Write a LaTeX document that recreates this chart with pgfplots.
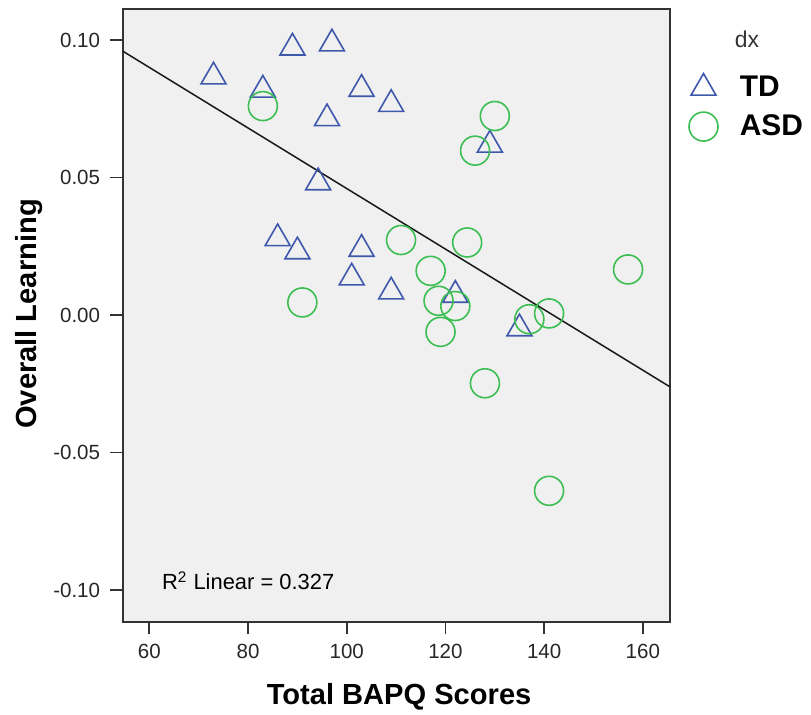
\documentclass[border=0pt]{standalone}
\usepackage{fontspec}
\setmainfont{Liberation Sans}
\usepackage{pgfplots}
\pgfplotsset{compat=1.18}
\definecolor{tdblue}{HTML}{3E58AC}
\definecolor{asdgreen}{HTML}{3DBE52}
\definecolor{panel}{HTML}{F0F0F0}
\definecolor{frame}{HTML}{333333}

\begin{document}
\begin{tikzpicture}
\begin{axis}[
  name=ax,
  scale only axis,
  width=273.65bp,height=306.2bp,
  xmin=54.6,xmax=165.5,ymin=-0.1115,ymax=0.1112,
  xtick={60,80,100,120,140,160},
  ytick={-0.1,-0.05,0,0.05,0.1},
  yticklabels={-0.10,-0.05,0.00,0.05,0.10},
  tick align=outside,
  major tick length=6.3bp,
  xtick pos=bottom,ytick pos=left,
  axis background/.style={fill=panel},
  axis line style={frame,line width=1bp},
  tick style={frame,line width=0.9bp},
  /pgf/number format/assume math mode=true,
  tick label style={font=\fontsize{10.3}{12}\selectfont,color=black!85},
  yticklabel style={anchor=east,xshift=-1.5bp},
  xticklabel style={anchor=north,yshift=-1.5bp},
  xlabel={Total BAPQ Scores},
  ylabel={Overall Learning},
  label style={font=\fontsize{14.6}{17}\selectfont\bfseries},
  xlabel style={at={(axis description cs:0.505,-0.136)},anchor=base},
  ylabel style={at={(axis description cs:-0.1575,0.5025)},anchor=base},
  legend style={at={(axis description cs:1.034,0.898)},anchor=north west,
    draw=none,fill=none,font=\fontsize{15}{17}\selectfont\bfseries,
    row sep=3.5bp,inner sep=0pt},
  legend cell align=left,
  legend image code/.code={\path[draw=none,fill=none] (0bp,0bp) -- (21.7bp,0bp);\draw[#1] plot coordinates {(5.5bp,0bp)};},
]
\addplot[only marks,mark=triangle,mark size=7.2bp,draw=tdblue,line width=0.8bp] coordinates {
 (73.0,0.0867) (89.0,0.0972) (97.0,0.0987) (83.0,0.0819) (103.0,0.0822)
 (109.0,0.0767) (96.0,0.0715) (94.2,0.0482) (86.0,0.0279) (90.0,0.0231)
 (103.0,0.0240) (101.0,0.0136) (109.0,0.0085) (129.0,0.0619) (122.0,0.0073)
 (135.0,-0.0049)};
\addlegendentry{TD}
\addplot[only marks,mark=o,mark size=7.25bp,draw=asdgreen,line width=0.8bp] coordinates {
 (83.0,0.0760) (111.0,0.0273) (91.0,0.0046) (130.0,0.0724) (126.0,0.0598)
 (124.4,0.0264) (117.0,0.0161) (118.6,0.0052) (122.0,0.0033) (119.0,-0.0061)
 (137.0,-0.0015) (141.0,0.0006) (157.0,0.0166) (128.0,-0.0248) (141.0,-0.0639)};
\addlegendentry{ASD}
\addplot[black!90,line width=0.75bp,forget plot] coordinates {(54.6,0.0960) (165.5,-0.0261)};
\node[anchor=west,font=\fontsize{11}{13}\selectfont,inner sep=0pt] at (axis cs:62.5,-0.0966) {R\textsuperscript{2} Linear = 0.327};
\end{axis}
\node[font=\fontsize{11.5}{13}\selectfont,color=black!80,inner sep=0pt] at ([xshift=38.5bp,yshift=-14.85bp]ax.north east) {dx};
\pgfresetboundingbox
\path[use as bounding box] ([xshift=-61.35bp,yshift=-46.65bp]ax.south west) rectangle ([xshift=70.5bp,yshift=4.65bp]ax.north east);
\end{tikzpicture}
\end{document}
